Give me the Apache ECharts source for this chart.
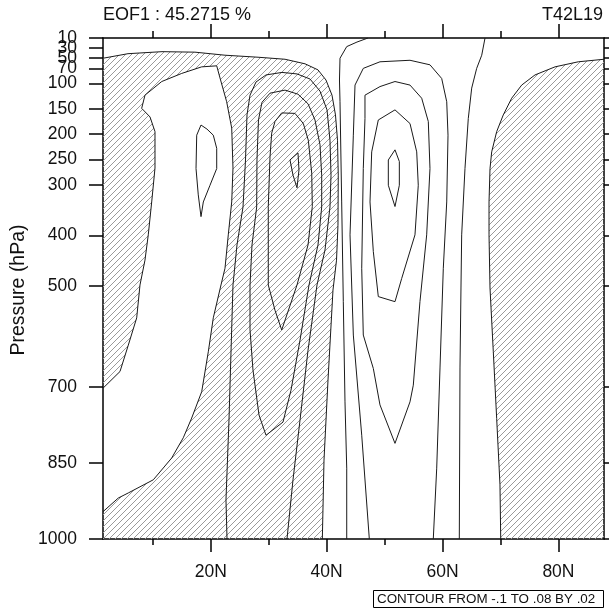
<!DOCTYPE html>
<html><head><meta charset="utf-8">
<script src="https://cdn.jsdelivr.net/npm/echarts@6.0.0/dist/echarts.min.js"></script>
<style>html,body{margin:0;padding:0;background:#fff}#c{width:614px;height:609px}</style>
</head><body><div id="c"></div><script>
// ---------- data ----------
const LAT_MIN = 1.3953, LAT_MAX = 87.8638;   // T42 gaussian latitudes (first/last NH)
const P_TOP = 10, P_BOTTOM = 1000;
const xMajorTicks = [20, 40, 60, 80];
const xTickLabels = ['20N', '40N', '60N', '80N'];
const xMinorTicks = [10, 30, 50, 70];
const yTickValues = [10, 30, 50, 70, 100, 150, 200, 250, 300, 400, 500, 700, 850, 1000];
const yTickLabels = ['10', '30', '50', '70', '100', '150', '200', '250', '300', '400', '500', '700', '850', '1000'];
const titleLeft = 'EOF1 : 45.2715 %';
const titleRight = 'T42L19';
const yTitle = 'Pressure (hPa)';
const contourInfo = 'CONTOUR FROM -.1 TO .08 BY .02';

// contour lines [latitude, pressure hPa]
const zeroWest = [[1.3953,50],[5.71,41],[11.58,37],[17.27,38],[22.45,44],[28.15,48],[32.81,52],[36.26,61],[38.5,73],[39.88,93],[40.92,123],[41.52,162],[41.87,212],[42.0,281],[41.95,380],[41.7,449],[41.09,508],[40.23,686],[39.54,844],[39.25,1000]];
const zeroBlob = [[1.3953,702],[4.33,669],[5.76,617],[7.21,563],[7.78,498],[8.64,449],[9.21,399],[9.8,334],[10.37,267],[10.37,195],[9.51,166],[8.07,149],[8.64,123],[11.53,96],[14.98,80],[18.43,67],[21.02,65],[21.59,89],[22.74,136],[23.61,188],[23.83,267],[23.61,334],[23.02,399],[22.45,465],[21.76,498],[20.43,563],[19.57,630],[18.43,709],[16.7,761],[15.25,800],[13.25,840],[10.08,883],[5.76,909],[4.04,919],[1.3953,946]];
const blobMax = [[18.31,182],[19.34,190],[20.43,202],[21.02,228],[21.02,268],[19.86,301],[18.71,334],[18.31,363],[17.84,320],[17.45,268],[17.57,202],[18.31,182]];
const negM02 = [[22.8,1000],[22.62,923],[23.14,765],[23.83,498],[24.52,419],[25.56,344],[25.99,251],[26.25,162],[26.77,123],[27.8,97],[29.53,83],[32.29,78],[34.88,81],[37.12,91],[38.85,115],[40.06,152],[40.57,212],[40.75,281],[40.57,344],[39.71,429],[38.33,498],[36.78,627],[35.4,765],[34.19,883],[33.15,1000]];
const negM04 = [[27.92,344],[27.97,251],[28.23,172],[28.84,137],[30.22,119],[32.81,113],[35.05,121],[36.78,140],[37.98,172],[38.85,221],[39.14,281],[39.14,344],[38.5,419],[36.95,498],[35.4,607],[33.84,706],[32.46,769],[29.53,795],[28.32,755],[27.28,666],[26.77,587],[26.77,498],[27.11,419],[27.92,344]];
const negM06 = [[32.24,158],[34.53,159],[35.97,179],[36.83,212],[37.42,277],[37.52,343],[36.78,419],[34.88,498],[32.24,587],[31.08,548],[29.92,498],[29.92,419],[29.92,343],[30.22,245],[30.51,198],[31.08,175],[32.24,158]];
const negM08 = [[33.67,251],[35.05,237],[35.22,271],[34.88,306],[34.19,281],[33.67,251]];
const pos02West = [[47.13,10],[45.23,18],[43.46,27],[42.3,50],[42.21,93],[42.3,136],[42.59,334],[42.87,531],[43.16,729],[43.46,860],[43.46,1000]];
const pos04 = [[47.36,1000],[46.05,795],[44.6,597],[44.03,399],[44.6,202],[44.89,103],[46.32,70],[49.2,57],[54.38,54],[57.83,63],[59.85,90],[60.72,136],[60.94,202],[60.72,334],[60.13,465],[59.56,662],[58.99,860],[58.4,1000]];
const pos06 = [[46.61,123],[49.2,106],[51.79,96],[54.38,103],[56.4,129],[57.54,175],[57.83,268],[57.26,399],[56.1,531],[54.95,696],[54.38,729],[51.79,811],[49.2,735],[48.05,663],[46.32,597],[46.05,465],[46.32,268],[46.61,169],[46.61,123]];
const pos08 = [[48.91,172],[51.79,152],[54.38,179],[55.54,235],[55.81,301],[55.24,399],[52.95,485],[51.79,531],[48.91,521],[48.05,432],[47.48,334],[47.77,235],[48.91,172]];
const posInner = [[50.64,251],[51.79,231],[52.54,254],[52.54,301],[51.79,343],[50.64,301],[50.64,251]];
const pos02East = [[67.33,10],[66.76,44],[65.89,70],[65.03,109],[64.44,169],[63.87,268],[63.3,399],[63.18,504],[63.01,662],[62.89,1000]];
const zeroEast = [[87.8638,52],[83.43,57],[79.41,67],[75.95,83],[73.66,103],[71.93,129],[70.48,162],[69.34,195],[68.48,235],[68.19,268],[68.02,334],[68.02,399],[68.19,504],[68.76,630],[69.34,762],[69.91,893],[70.04,1000]];

const contourLines = [zeroWest, zeroBlob, blobMax, negM02, negM04, negM06, negM08, pos02West, pos04, pos06, pos08, posInner, pos02East, zeroEast];

// negative (hatched) regions built from the zero contours and the plot edges
const hatchWest = zeroWest.concat([[LAT_MIN, P_BOTTOM]], zeroBlob.slice().reverse());
const hatchEast = zeroEast.concat([[LAT_MAX, P_BOTTOM]]);
const hatchRegions = [hatchWest, hatchEast];

// ---------- chart ----------
const FONT = '"Liberation Sans", Arial, Helvetica, sans-serif';
const INK = '#111';

const pc = document.createElement('canvas');
pc.width = 6; pc.height = 6;
const g = pc.getContext('2d');
g.strokeStyle = '#9a9a9a'; g.lineWidth = 1;
g.beginPath();
g.moveTo(0, 6); g.lineTo(6, 0);
g.moveTo(-1, 1); g.lineTo(1, -1);
g.moveTo(5, 7); g.lineTo(7, 5);
g.stroke();
const hatchPattern = { image: pc, repeat: 'repeat' };

const chart = echarts.init(document.getElementById('c'), null, { renderer: 'canvas' });

function xAxisDef(pos, ticks, len, showLine, showLabel) {
  return {
    type: 'value', position: pos, min: LAT_MIN, max: LAT_MAX,
    axisLine: { show: showLine, onZero: false, lineStyle: { color: '#000', width: 1.5 } },
    axisTick: { show: true, customValues: ticks, length: len, lineStyle: { color: '#000', width: 1.5 } },
    axisLabel: showLabel ? {
      show: true, customValues: ticks, margin: 24, color: INK, fontSize: 17.5, fontFamily: FONT,
      formatter: v => xTickLabels[xMajorTicks.indexOf(v)]
    } : { show: false },
    splitLine: { show: false }
  };
}

// left pressure labels split over two axes so the crowded top labels are all kept
const yLabelsA = yTickValues.filter((v, i) => i % 2 === 0);
const yLabelsB = yTickValues.filter((v, i) => i % 2 === 1);
function yLabelAxis(vals, showLineTicks) {
  return {
    type: 'value', position: 'left', inverse: true, min: P_TOP, max: P_BOTTOM,
    axisLine: { show: showLineTicks, onZero: false, lineStyle: { color: '#000', width: 1.5 } },
    axisTick: { show: showLineTicks, customValues: yTickValues, length: 14, lineStyle: { color: '#000', width: 1.5 } },
    axisLabel: { show: true, customValues: vals, margin: 26, color: INK, fontSize: 17.5, fontFamily: FONT,
      showMinLabel: true, showMaxLabel: true, hideOverlap: false,
      formatter: v => yTickLabels[yTickValues.indexOf(v)] },
    splitLine: { show: false }
  };
}

const series = [{
  type: 'custom', xAxisIndex: 0, yAxisIndex: 0, silent: true, clip: true, z: 1,
  data: hatchRegions.map(() => [LAT_MIN + 10, 500]),
  renderItem: (params, api) => {
    const reg = hatchRegions[params.dataIndex];
    return { type: 'polygon', shape: { points: reg.map(p => api.coord(p)) }, style: { fill: hatchPattern, stroke: null } };
  }
}];
contourLines.forEach(line => series.push({
  type: 'line', xAxisIndex: 0, yAxisIndex: 0, data: line, symbol: 'none', silent: true, clip: true, z: 3,
  lineStyle: { color: '#1a1a1a', width: 1 }
}));

chart.setOption({
  animation: false,
  backgroundColor: '#fff',
  grid: { left: 103, top: 38, width: 501, height: 501, containLabel: false },
  xAxis: [
    xAxisDef('bottom', xMajorTicks, 13, true, true),
    xAxisDef('bottom', xMinorTicks, 6, false, false),
    xAxisDef('top', xMajorTicks, 14, true, false),
    xAxisDef('top', xMinorTicks, 7, false, false)
  ],
  yAxis: [
    yLabelAxis(yLabelsA, true),
    yLabelAxis(yLabelsB, false),
    {
      type: 'value', position: 'right', inverse: true, min: P_TOP, max: P_BOTTOM,
      axisLine: { show: true, onZero: false, lineStyle: { color: '#000', width: 1.5 } },
      axisTick: { show: true, customValues: yTickValues, length: 5, lineStyle: { color: '#000', width: 1.5 } },
      axisLabel: { show: false },
      splitLine: { show: false }
    }
  ],
  graphic: [
    { type: 'text', x: 103, y: 15.3, silent: true,
      style: { text: titleLeft, font: '18px ' + FONT, fill: INK, align: 'left', verticalAlign: 'middle' } },
    { type: 'text', x: 603, y: 15.3, silent: true,
      style: { text: titleRight, font: '18px ' + FONT, fill: INK, align: 'right', verticalAlign: 'middle' } },
    { type: 'text', x: 19, y: 290, rotation: Math.PI / 2, silent: true,
      style: { text: yTitle, font: '19.5px ' + FONT, fill: INK, align: 'center', verticalAlign: 'middle' } },
    { type: 'rect', shape: { x: 373.5, y: 590.5, width: 230, height: 17 }, silent: true,
      style: { fill: '#fff', stroke: '#000', lineWidth: 1 } },
    { type: 'text', x: 377, y: 599.5, silent: true,
      style: { text: contourInfo, font: '13.4px ' + FONT, fill: INK, align: 'left', verticalAlign: 'middle' } }
  ],
  series: series
});
</script></body></html>
